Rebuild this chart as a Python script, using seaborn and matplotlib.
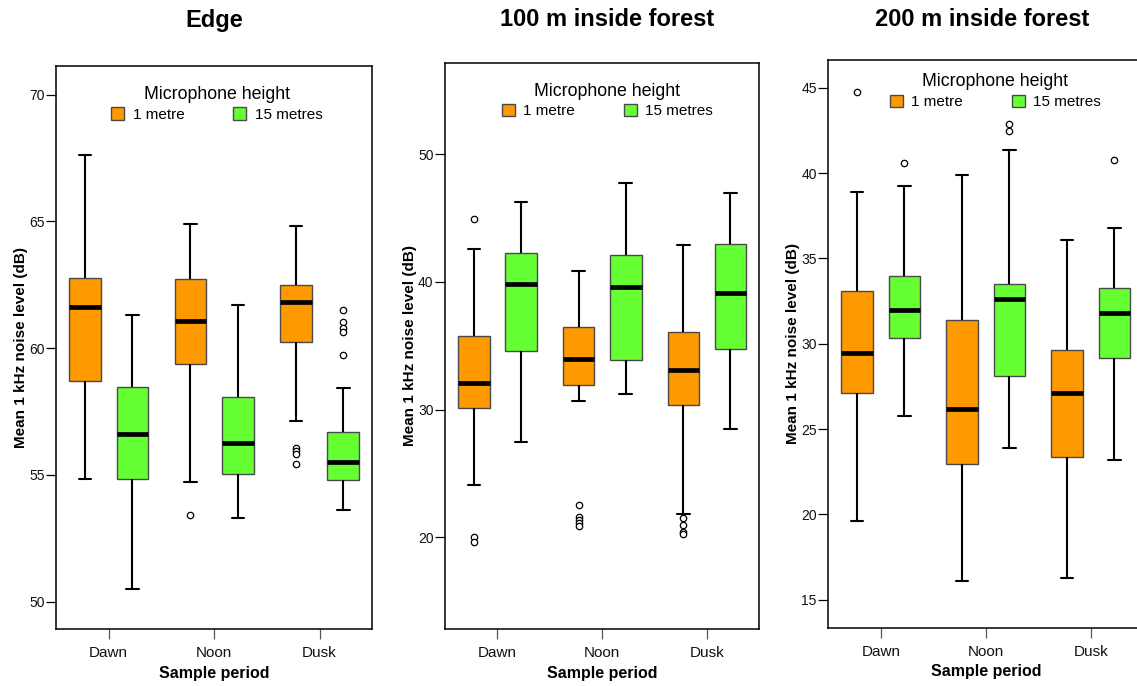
import numpy as np
import pandas as pd
import matplotlib
matplotlib.use("Agg")
import matplotlib.pyplot as plt
from matplotlib.patches import Patch
import seaborn as sns

# --- data (box order: Dawn 1m, Dawn 15m, Noon 1m, Noon 15m, Dusk 1m, Dusk 15m)
periods = ["Dawn", "Noon", "Dusk"]
heights = ["1 metre", "15 metres"]
titles = ["Edge", "100 m inside forest", "200 m inside forest"]

edge_low = [54.83, 50.51, 54.71, 53.31, 57.13, 53.62]
edge_q1 = [58.71, 54.83, 59.36, 55.02, 60.25, 54.79]
edge_med = [61.62, 56.61, 61.07, 56.27, 61.82, 55.52]
edge_q3 = [62.75, 58.45, 62.71, 58.06, 62.50, 56.68]
edge_high = [67.60, 61.30, 64.89, 61.70, 64.83, 58.41]
edge_out = [[], [], [53.42], [], [56.07, 55.95, 55.82, 55.44],
            [61.50, 61.05, 60.80, 60.65, 59.72]]

f100_low = [24.10, 27.49, 30.70, 31.20, 21.80, 28.48]
f100_q1 = [30.13, 34.59, 31.93, 33.88, 30.36, 34.77]
f100_med = [32.10, 39.84, 33.99, 39.58, 33.10, 39.15]
f100_q3 = [35.76, 42.29, 36.47, 42.08, 36.10, 42.94]
f100_high = [42.58, 46.26, 40.88, 47.77, 42.89, 46.98]
f100_out = [[44.90, 20.00, 19.62], [], [22.50, 21.60, 21.35, 21.15, 20.90], [],
            [21.50, 21.00, 20.40, 20.25], []]

f200_low = [19.60, 25.79, 16.10, 23.89, 16.27, 23.21]
f200_q1 = [27.10, 30.36, 22.94, 28.11, 23.38, 29.15]
f200_med = [29.46, 32.00, 26.20, 32.61, 27.13, 31.81]
f200_q3 = [33.11, 33.97, 31.38, 33.52, 29.64, 33.29]
f200_high = [38.90, 39.27, 39.88, 41.38, 36.08, 36.79]
f200_out = [[44.78], [40.58], [], [42.88, 42.49], [], [40.79]]

y_limits = [(48.91, 71.14), (12.8, 57.16), (13.36, 46.63)]
y_ticks = [[50, 55, 60, 65, 70], [20, 30, 40, 50], [15, 20, 25, 30, 35, 40, 45]]

ORANGE = "#FF9900"
GREEN = "#66FF33"
WIDTH = 0.9

sns.set_style("ticks")
plt.rcParams["font.family"] = ["Liberation Sans", "DejaVu Sans"]
plt.rcParams.update({"text.color": "black", "axes.labelcolor": "black",
                     "xtick.color": "black", "ytick.color": "black"})


def summary_frame(low, q1, med, q3, high):
    # five-number summary of each box, boxplot with whis=(0, 100) reproduces it exactly
    rows = []
    for k, stats in enumerate(zip(low, q1, med, q3, high)):
        for v in stats:
            rows.append({"period": periods[k // 2], "height": heights[k % 2], "value": v})
    return pd.DataFrame(rows)


panels = [
    (summary_frame(edge_low, edge_q1, edge_med, edge_q3, edge_high), edge_out),
    (summary_frame(f100_low, f100_q1, f100_med, f100_q3, f100_high), f100_out),
    (summary_frame(f200_low, f200_q1, f200_med, f200_q3, f200_high), f200_out),
]

W, H = 1137, 686
fig = plt.figure(figsize=(W / 100, H / 100), dpi=100)

# axes boxes in pixels: left, right, top, bottom
boxes_px = [(56, 372.3, 65.7, 629.3), (445, 759.3, 62.7, 629.3), (828.3, 1143.3, 60, 627.7)]
legend_px = [(217, 103.8), (607.5, 100.5), (995.5, 91.3)]
title_x = [214, 607, 982]

for i, ((df, outliers), (l, r, t, b)) in enumerate(zip(panels, boxes_px)):
    ax = fig.add_axes([l / W, 1 - b / H, (r - l) / W, (b - t) / H])
    sns.boxplot(data=df, x="period", y="value", hue="height", order=periods,
                hue_order=heights, palette=[ORANGE, GREEN], saturation=1,
                width=WIDTH, gap=0.33, whis=(0, 100), showfliers=False,
                linecolor="black", linewidth=1.5, legend=False, ax=ax,
                boxprops=dict(edgecolor="#4a4a4a", linewidth=1.0),
                medianprops=dict(color="black", linewidth=3.4),
                whiskerprops=dict(color="black", linewidth=1.5),
                capprops=dict(color="black", linewidth=1.5),
                capwidths=0.12)

    # outliers, at the same dodged positions seaborn uses
    for k, vals in enumerate(outliers):
        if not vals:
            continue
        pos = k // 2 + (k % 2 - 0.5) * WIDTH / 2
        ax.plot([pos] * len(vals), vals, ls="none", marker="o", ms=4.6,
                mfc="white", mec="black", mew=0.9, zorder=5)

    ax.set_xlim(-0.5, 2.5)
    ax.set_ylim(*y_limits[i])
    ax.set_yticks(y_ticks[i])
    ax.tick_params(axis="y", direction="out", length=7.3, width=0.9, pad=1,
                   labelsize=10, color="black", labelcolor="#111111")
    ax.tick_params(axis="x", direction="out", length=7.3, width=0.9, pad=5,
                   labelsize=11, color="#555555", labelcolor="#111111")
    for sp in ax.spines.values():
        sp.set_linewidth(1.1)
        sp.set_color("black")

    ax.set_xlabel("Sample period", fontsize=11.5, fontweight="bold", labelpad=4)
    ax.set_ylabel("Mean 1 kHz noise level (dB)", fontsize=11, fontweight="bold")
    ax.yaxis.set_label_coords(-28 / (r - l), 0.5)

    fig.text(title_x[i] / W, 1 - 20 / H, titles[i],
             ha="center", va="center", fontsize=17, fontweight="bold")

    handles = [Patch(facecolor=ORANGE, edgecolor="#4a4a4a", linewidth=1.0),
               Patch(facecolor=GREEN, edgecolor="#4a4a4a", linewidth=1.0)]
    lx, ly = legend_px[i]
    ax.legend(handles, heights, title="Microphone height", ncol=2, frameon=False,
              loc="center", bbox_to_anchor=(lx / W, 1 - ly / H),
              bbox_transform=fig.transFigure, fontsize=11, title_fontsize=12.8,
              handlelength=0.85, handleheight=0.85, handletextpad=0.55,
              columnspacing=3.2, borderpad=0.2, labelspacing=0.3)

fig.savefig("out.png", dpi=100)
